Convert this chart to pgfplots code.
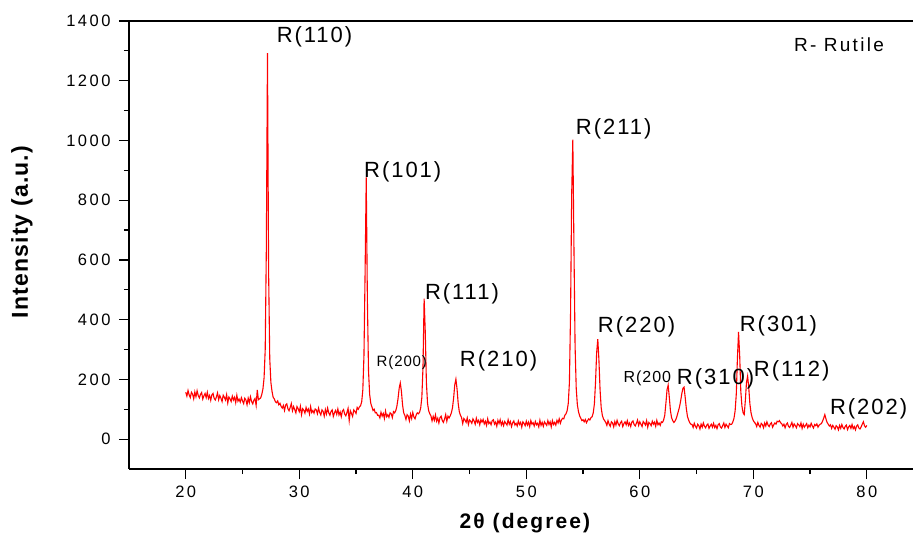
\documentclass[border=0pt]{standalone}
\usepackage{fontspec}
\setmainfont{Liberation Sans}
\usepackage{pgfplots}
\pgfplotsset{compat=1.18}
\newfontfamily\tickf[LetterSpace=15]{Liberation Sans}
\newfontfamily\pkf[LetterSpace=9]{Liberation Sans}
\newfontfamily\smf[LetterSpace=6]{Liberation Sans}
\newfontfamily\rutf[LetterSpace=12]{Liberation Sans}
\newfontfamily\axf[LetterSpace=10]{Liberation Sans}
\newfontfamily\ylf[LetterSpace=5]{Liberation Sans}
\begin{document}
\begin{tikzpicture}
\begin{axis}[
 scale only axis, width=784pt, height=448pt,
 xmin=15, xmax=84.07, ymin=-100, ymax=1400,
 axis x line*=box, axis y line*=left,
 xtick pos=bottom,
 axis line style={line width=1.2pt},
 xtick={20,30,...,80}, ytick={0,200,...,1400},
 minor x tick num=1, minor y tick num=1,
 tick align=outside,
 major tick length=10pt, minor tick length=5pt,
 tick style={black, line width=1.2pt},
 /pgf/number format/assume math mode=true,
 /pgf/number format/1000 sep={},
 ticklabel style={font=\tickf\fontsize{16.5}{19}\selectfont},
 xticklabel style={yshift=-3pt},
 yticklabel style={xshift=-5pt},
 xlabel={2θ (degree)},
 xlabel style={font=\axf\bfseries\fontsize{21}{25}\selectfont, at={(axis description cs:0.505,-0.132)}, anchor=base},
 ylabel={Intensity (a.u.)},
 ylabel style={font=\ylf\bfseries\fontsize{23}{27}\selectfont, at={(axis description cs:-0.1365,0.529)}, anchor=center},
 clip=false,
]
\addplot[red, line width=1.1pt] coordinates {
(20.0,157)(20.1,144)(20.2,163)(20.3,148)(20.4,139)(20.5,157)(20.6,151)(20.7,135)(20.8,158)(20.9,142)
(21.0,162)(21.1,146)(21.2,138)(21.3,150)(21.4,156)(21.5,134)(21.6,145)(21.7,153)(21.8,139)(21.9,157)
(22.0,136)(22.1,146)(22.2,130)(22.3,148)(22.4,153)(22.5,137)(22.6,131)(22.7,141)(22.8,155)(22.9,132)
(23.0,146)(23.1,137)(23.2,126)(23.3,147)(23.4,140)(23.5,131)(23.6,149)(23.7,121)(23.8,141)(23.9,135)
(24.0,126)(24.1,144)(24.2,131)(24.3,140)(24.4,122)(24.5,147)(24.6,127)(24.7,134)(24.8,124)(24.9,139)
(25.0,128)(25.1,119)(25.2,137)(25.3,131)(25.4,115)(25.5,137)(25.6,122)(25.7,142)(25.8,126)(25.9,118)
(26.0,130)(26.1,136)(26.2,113)(26.3,165)(26.4,132)(26.5,135)(26.6,138)(26.7,150)(26.8,168)(26.9,205)
(27.0,300)(27.1,640)(27.2,1292)(27.3,560)(27.4,270)(27.5,190)(27.6,160)(27.7,140)(27.8,135)(27.9,125)
(28.0,122)(28.1,128)(28.2,115)(28.3,120)(28.4,110)(28.5,104)(28.6,113)(28.7,96)(28.8,114)(28.9,118)
(29.0,102)(29.1,95)(29.2,106)(29.3,119)(29.4,95)(29.5,109)(29.6,99)(29.7,88)(29.8,109)(29.9,102)
(30.0,92)(30.1,110)(30.2,82)(30.3,102)(30.4,97)(30.5,87)(30.6,106)(30.7,93)(30.8,101)(30.9,84)
(31.0,109)(31.1,89)(31.2,96)(31.3,87)(31.4,101)(31.5,98)(31.6,85)(31.7,104)(31.8,89)(31.9,81)
(32.0,98)(32.1,93)(32.2,77)(32.3,99)(32.4,84)(32.5,104)(32.6,88)(32.7,80)(32.8,93)(32.9,98)
(33.0,76)(33.1,88)(33.2,96)(33.3,83)(33.4,101)(33.5,81)(33.6,91)(33.7,75)(33.8,94)(33.9,99)
(34.0,84)(34.1,78)(34.2,89)(34.3,103)(34.4,62)(34.5,95)(34.6,86)(34.7,76)(34.8,98)(34.9,93)
(35.0,86)(35.1,106)(35.2,100)(35.3,108)(35.4,112)(35.5,125)(35.6,165)(35.7,280)(35.8,560)(35.9,876)
(36.0,470)(36.1,230)(36.2,150)(36.3,120)(36.4,108)(36.5,96)(36.6,100)(36.7,88)(36.8,89)(36.9,80)
(37.0,80)(37.1,71)(37.2,90)(37.3,77)(37.4,86)(37.5,69)(37.6,94)(37.7,75)(37.8,82)(37.9,73)
(38.0,88)(38.1,85)(38.2,72)(38.3,92)(38.4,88)(38.5,95)(38.6,110)(38.7,135)(38.8,170)(38.9,188)
(39.0,160)(39.1,115)(39.2,88)(39.3,80)(39.4,66)(39.5,82)(39.6,77)(39.7,61)(39.8,84)(39.9,69)
(40.0,89)(40.1,74)(40.2,68)(40.3,81)(40.4,88)(40.5,85)(40.6,90)(40.7,105)(40.8,140)(40.9,240)
(41.0,470)(41.1,360)(41.2,190)(41.3,120)(41.4,95)(41.5,85)(41.6,78)(41.7,61)(41.8,76)(41.9,63)
(42.0,81)(42.1,60)(42.2,70)(42.3,54)(42.4,72)(42.5,77)(42.6,62)(42.7,56)(42.8,67)(42.9,82)
(43.0,60)(43.1,77)(43.2,71)(43.3,78)(43.4,88)(43.5,105)(43.6,138)(43.7,182)(43.8,201)(43.9,168)
(44.0,120)(44.1,92)(44.2,80)(44.3,72)(44.4,52)(44.5,69)(44.6,64)(44.7,56)(44.8,71)(44.9,49)
(45.0,64)(45.1,60)(45.2,53)(45.3,68)(45.4,61)(45.5,50)(45.6,70)(45.7,56)(45.8,63)(45.9,48)
(46.0,65)(46.1,57)(46.2,66)(46.3,51)(46.4,60)(46.5,46)(46.6,68)(46.7,52)(46.8,57)(46.9,48)
(47.0,62)(47.1,65)(47.2,50)(47.3,57)(47.4,43)(47.5,63)(47.6,52)(47.7,65)(47.8,47)(47.9,58)
(48.0,45)(48.1,59)(48.2,53)(48.3,47)(48.4,65)(48.5,50)(48.6,59)(48.7,42)(48.8,55)(48.9,61)
(49.0,47)(49.1,53)(49.2,44)(49.3,61)(49.4,49)(49.5,56)(49.6,40)(49.7,58)(49.8,53)(49.9,45)
(50.0,60)(50.1,47)(50.2,57)(50.3,42)(50.4,62)(50.5,50)(50.6,55)(50.7,44)(50.8,59)(50.9,48)
(51.0,53)(51.1,41)(51.2,63)(51.3,46)(51.4,56)(51.5,43)(51.6,58)(51.7,52)(51.8,46)(51.9,62)
(52.0,49)(52.1,58)(52.2,41)(52.3,62)(52.4,49)(52.5,56)(52.6,47)(52.7,63)(52.8,54)(52.9,68)
(53.0,53)(53.1,64)(53.2,70)(53.3,68)(53.4,80)(53.5,85)(53.6,95)(53.7,120)(53.8,190)(53.9,420)
(54.0,820)(54.1,1003)(54.2,640)(54.3,310)(54.4,170)(54.5,115)(54.6,92)(54.7,78)(54.8,70)(54.9,62)
(55.0,65)(55.1,58)(55.2,66)(55.3,55)(55.4,62)(55.5,68)(55.6,64)(55.7,72)(55.8,75)(55.9,88)
(56.0,118)(56.1,190)(56.2,290)(56.3,335)(56.4,265)(56.5,165)(56.6,105)(56.7,80)(56.8,68)(56.9,62)
(57.0,56)(57.1,46)(57.2,62)(57.3,50)(57.4,43)(57.5,58)(57.6,54)(57.7,41)(57.8,59)(57.9,47)
(58.0,63)(58.1,51)(58.2,45)(58.3,55)(58.4,60)(58.5,42)(58.6,52)(58.7,58)(58.8,48)(58.9,62)
(59.0,46)(59.1,54)(59.2,42)(59.3,57)(59.4,61)(59.5,49)(59.6,44)(59.7,53)(59.8,64)(59.9,46)
(60.0,58)(60.1,50)(60.2,42)(60.3,59)(60.4,54)(60.5,47)(60.6,62)(60.7,40)(60.8,56)(60.9,52)
(61.0,45)(61.1,60)(61.2,50)(61.3,57)(61.4,43)(61.5,63)(61.6,48)(61.7,54)(61.8,46)(61.9,58)
(62.0,56)(62.1,64)(62.2,80)(62.3,120)(62.4,165)(62.5,181)(62.6,140)(62.7,95)(62.8,72)(62.9,62)
(63.0,56)(63.1,60)(63.2,68)(63.3,80)(63.4,94)(63.5,108)(63.6,128)(63.7,152)(63.8,170)(63.9,174)
(64.0,140)(64.1,102)(64.2,76)(64.3,64)(64.4,55)(64.5,50)(64.6,49)(64.7,39)(64.8,53)(64.9,43)
(65.0,37)(65.1,50)(65.2,45)(65.3,34)(65.4,50)(65.5,40)(65.6,54)(65.7,43)(65.8,38)(65.9,47)
(66.0,51)(66.1,36)(66.2,44)(66.3,50)(66.4,40)(66.5,53)(66.6,39)(66.7,46)(66.8,35)(66.9,48)
(67.0,52)(67.1,41)(67.2,37)(67.3,45)(67.4,54)(67.5,39)(67.6,50)(67.7,44)(67.8,38)(67.9,52)
(68.0,49)(68.1,50)(68.2,58)(68.3,70)(68.4,95)(68.5,150)(68.6,270)(68.7,359)(68.8,280)(68.9,160)
(69.0,110)(69.1,88)(69.2,82)(69.3,130)(69.4,190)(69.5,211)(69.6,172)(69.7,118)(69.8,88)(69.9,72)
(70.0,62)(70.1,56)(70.2,52)(70.3,42)(70.4,56)(70.5,46)(70.6,40)(70.7,53)(70.8,49)(70.9,38)
(71.0,54)(71.1,44)(71.2,58)(71.3,47)(71.4,42)(71.5,51)(71.6,55)(71.7,40)(71.8,48)(71.9,54)
(72.0,50)(72.1,60)(72.2,58)(72.3,62)(72.4,55)(72.5,52)(72.6,44)(72.7,50)(72.8,38)(72.9,49)
(73.0,54)(73.1,43)(73.2,39)(73.3,47)(73.4,56)(73.5,40)(73.6,51)(73.7,45)(73.8,38)(73.9,52)
(74.0,48)(74.1,42)(74.2,54)(74.3,36)(74.4,50)(74.5,40)(74.6,46)(74.7,52)(74.8,38)(74.9,47)
(75.0,41)(75.1,53)(75.2,44)(75.3,37)(75.4,49)(75.5,45)(75.6,51)(75.7,40)(75.8,47)(75.9,50)
(76.0,52)(76.1,60)(76.2,70)(76.3,82)(76.4,68)(76.5,56)(76.6,50)(76.7,44)(76.8,48)(76.9,36)
(77.0,46)(77.1,40)(77.2,33)(77.3,45)(77.4,41)(77.5,31)(77.6,46)(77.7,36)(77.8,49)(77.9,39)
(78.0,34)(78.1,43)(78.2,47)(78.3,32)(78.4,41)(78.5,46)(78.6,36)(78.7,49)(78.8,35)(78.9,42)
(79.0,31)(79.1,44)(79.2,48)(79.3,37)(79.4,34)(79.5,41)(79.6,50)(79.7,58)(79.8,44)(79.9,40)
(80.0,46)
};
\node[anchor=west, inner sep=0pt, font=\pkf\fontsize{22}{26}\selectfont] at (axis cs:28.0,1346) {R(110)};
\node[anchor=west, inner sep=0pt, font=\pkf\fontsize{22}{26}\selectfont] at (axis cs:35.7,896) {R(101)};
\node[anchor=west, inner sep=0pt, font=\smf\fontsize{15}{18}\selectfont] at (axis cs:36.8,255) {R(200)};
\node[anchor=west, inner sep=0pt, font=\pkf\fontsize{22}{26}\selectfont] at (axis cs:41.06,487) {R(111)};
\node[anchor=west, inner sep=0pt, font=\pkf\fontsize{22}{26}\selectfont] at (axis cs:44.14,262) {R(210)};
\node[anchor=west, inner sep=0pt, font=\pkf\fontsize{22}{26}\selectfont] at (axis cs:54.36,1040) {R(211)};
\node[anchor=west, inner sep=0pt, font=\pkf\fontsize{22}{26}\selectfont] at (axis cs:56.3,376) {R(220)};
\node[anchor=west, inner sep=0pt, font=\smf\fontsize{16}{19}\selectfont] at (axis cs:58.56,205) {R(200};
\node[anchor=west, inner sep=0pt, font=\pkf\fontsize{22}{26}\selectfont] at (axis cs:63.26,201) {R(310)};
\node[anchor=west, inner sep=0pt, font=\pkf\fontsize{22}{26}\selectfont] at (axis cs:68.8,379) {R(301)};
\node[anchor=west, inner sep=0pt, font=\pkf\fontsize{22}{26}\selectfont] at (axis cs:70.04,228) {R(112)};
\node[anchor=west, inner sep=0pt, font=\pkf\fontsize{22}{26}\selectfont] at (axis cs:76.74,101) {R(202)};
\node[anchor=west, inner sep=0pt, font=\rutf\fontsize{19}{23}\selectfont] at (axis cs:73.57,1322) {R- Rutile};
\end{axis}
\pgfresetboundingbox
\path ([xshift=-129pt,yshift=-66pt]current axis.south west) rectangle ([yshift=21pt]current axis.north east);
\end{tikzpicture}
\end{document}
